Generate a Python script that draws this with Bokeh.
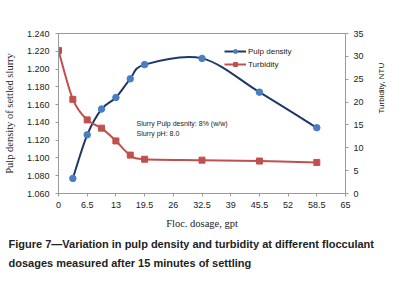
from bokeh.plotting import figure
from bokeh.models import (Range1d, LinearAxis, FixedTicker, Label, Legend, LegendItem,
                          Span, ColumnDataSource, Title)
from bokeh.embed import file_html
from bokeh.resources import INLINE

# ---- data ----
dosage_pulp = [3.25, 6.5, 9.75, 13, 16.25, 19.5, 32.5, 45.5, 58.5]
pulp_density = [1.077, 1.126, 1.155, 1.168, 1.189, 1.205, 1.212, 1.174, 1.134]
dosage_turb = [0, 3.25, 6.5, 9.75, 13, 16.25, 19.5, 32.5, 45.5, 58.5]
turbidity = [31.3, 20.6, 16.1, 14.3, 11.5, 8.4, 7.5, 7.3, 7.1, 6.8]
x_ticks = [0, 6.5, 13, 19.5, 26, 32.5, 39, 45.5, 52, 58.5, 65]
y_left_ticks = [1.06, 1.08, 1.10, 1.12, 1.14, 1.16, 1.18, 1.20, 1.22, 1.24]
y_right_ticks = [0, 5, 10, 15, 20, 25, 30, 35]

W, H = 409, 291
L, T, R, B = 54, 33, 345, 193

PULP_LINE = "#1f3868"
PULP_MARK = "#4a7ec4"
TURB = "#c0504d"
AXIS_GRAY = "#9a9a9a"
TXT = "#222222"

p = figure(width=W, height=H, output_backend="svg", toolbar_location=None,
           x_range=Range1d(x_ticks[0], x_ticks[-1]),
           y_range=Range1d(y_left_ticks[0], y_left_ticks[-1]),
           min_border_left=L, min_border_right=W - R, min_border_top=T,
           min_border_bottom=H - B)
p.extra_y_ranges = {"turb": Range1d(y_right_ticks[0], y_right_ticks[-1])}
p.outline_line_color = None
p.xgrid.visible = False
p.ygrid.visible = False
p.background_fill_color = "white"
p.border_fill_color = "white"


def style_axis(ax, standoff):
    ax.axis_line_color = AXIS_GRAY
    ax.major_tick_line_color = AXIS_GRAY
    ax.major_tick_out = 3
    ax.major_tick_in = 0
    ax.minor_tick_line_color = None
    ax.major_label_text_font = "Liberation Sans"
    ax.major_label_text_font_size = "9px"
    ax.major_label_text_color = TXT
    ax.major_label_standoff = standoff
    ax.axis_label_text_color = TXT
    ax.axis_label_text_font_style = "normal"


xa = p.xaxis[0]
xa.ticker = FixedTicker(ticks=x_ticks)
xa.major_label_overrides = {t: f"{t:g}" for t in x_ticks}
style_axis(xa, 5)
xa.axis_label = "Floc. dosage, gpt"
xa.axis_label_text_font = "Liberation Serif"
xa.axis_label_text_font_size = "10.5px"
xa.axis_label_standoff = 7

ya = p.yaxis[0]
ya.ticker = FixedTicker(ticks=y_left_ticks)
ya.major_label_overrides = {t: f"{t:.3f}" for t in y_left_ticks}
style_axis(ya, 6)
ya.axis_label = "Pulp density of settled slurry"
ya.axis_label_text_font = "Liberation Serif"
ya.axis_label_text_font_size = "10.5px"
ya.axis_label_standoff = 9

ra = LinearAxis(y_range_name="turb", ticker=FixedTicker(ticks=y_right_ticks))
ra.major_label_overrides = {t: f"{t:g}" for t in y_right_ticks}
style_axis(ra, 5)
ra.axis_label = "Turbidity, NTU"
ra.axis_label_text_font = "Liberation Sans"
ra.axis_label_text_font_size = "8px"
ra.axis_label_standoff = 15
ra.axis_label_orientation = 1.5708
p.add_layout(ra, "right")

p.add_layout(Span(location=y_left_ticks[-1], dimension="width", line_color="#333333",
                  line_width=1))


def smooth(xs, ys):
    n = len(xs)
    x0, y0, x1, y1, cx0, cy0, cx1, cy1 = [], [], [], [], [], [], [], []
    for i in range(n - 1):
        pa = i - 1 if i > 0 else i
        pb = i + 2 if i + 2 < n else i + 1
        x0.append(xs[i]); y0.append(ys[i])
        x1.append(xs[i + 1]); y1.append(ys[i + 1])
        cx0.append(xs[i] + (xs[i + 1] - xs[pa]) / 6)
        cy0.append(ys[i] + (ys[i + 1] - ys[pa]) / 6)
        cx1.append(xs[i + 1] - (xs[pb] - xs[i]) / 6)
        cy1.append(ys[i + 1] - (ys[pb] - ys[i]) / 6)
    return ColumnDataSource(dict(x0=x0, y0=y0, x1=x1, y1=y1,
                                 cx0=cx0, cy0=cy0, cx1=cx1, cy1=cy1))


pulp_curve = p.bezier("x0", "y0", "x1", "y1", "cx0", "cy0", "cx1", "cy1",
                      source=smooth(dosage_pulp, pulp_density),
                      line_color=PULP_LINE, line_width=2)
pulp_pts = p.scatter(dosage_pulp, pulp_density, marker="circle", size=6.5,
                     fill_color=PULP_MARK, line_color=PULP_MARK)

turb_curve = p.bezier("x0", "y0", "x1", "y1", "cx0", "cy0", "cx1", "cy1",
                      source=smooth(dosage_turb, turbidity), y_range_name="turb",
                      line_color=TURB, line_width=2)
turb_pts = p.scatter(dosage_turb, turbidity, marker="square", size=6,
                     fill_color=TURB, line_color=TURB, y_range_name="turb")

legend = Legend(items=[LegendItem(label="Pulp density", renderers=[pulp_curve, pulp_pts]),
                       LegendItem(label="Turbidity", renderers=[turb_curve, turb_pts])],
                location=(166, 124), border_line_color=None, background_fill_alpha=0,
                label_text_font="Liberation Sans", label_text_font_size="8px",
                label_text_color=TXT, glyph_width=22, glyph_height=10,
                label_standoff=2, spacing=3, padding=2, margin=0, label_height=10)
p.add_layout(legend)


def lab(text, x, y, size):
    p.add_layout(Label(x=x - L, y=B - y, x_units="screen", y_units="screen", text=text,
                       text_font="Liberation Sans", text_font_size=size,
                       text_align="left", text_baseline="middle", text_color=TXT))


lab("Slurry Pulp desnity: 8% (w/w)", 132, 123, "7px")
lab("Slurry pH: 8.0", 132, 133, "7px")

caption = ["Figure 7\u2014Variation in pulp density and turbidity at different flocculant",
           "dosages measured after 15 minutes of settling"]
for i, line in enumerate(caption):
    p.add_layout(Title(text=line, align="left", offset=-50,
                       text_font="Liberation Sans", text_font_size="11px",
                       text_font_style="bold", text_color=TXT,
                       standoff=9 if i == 0 else 0), "below")

open("out.html", "w").write(file_html(p, INLINE))
